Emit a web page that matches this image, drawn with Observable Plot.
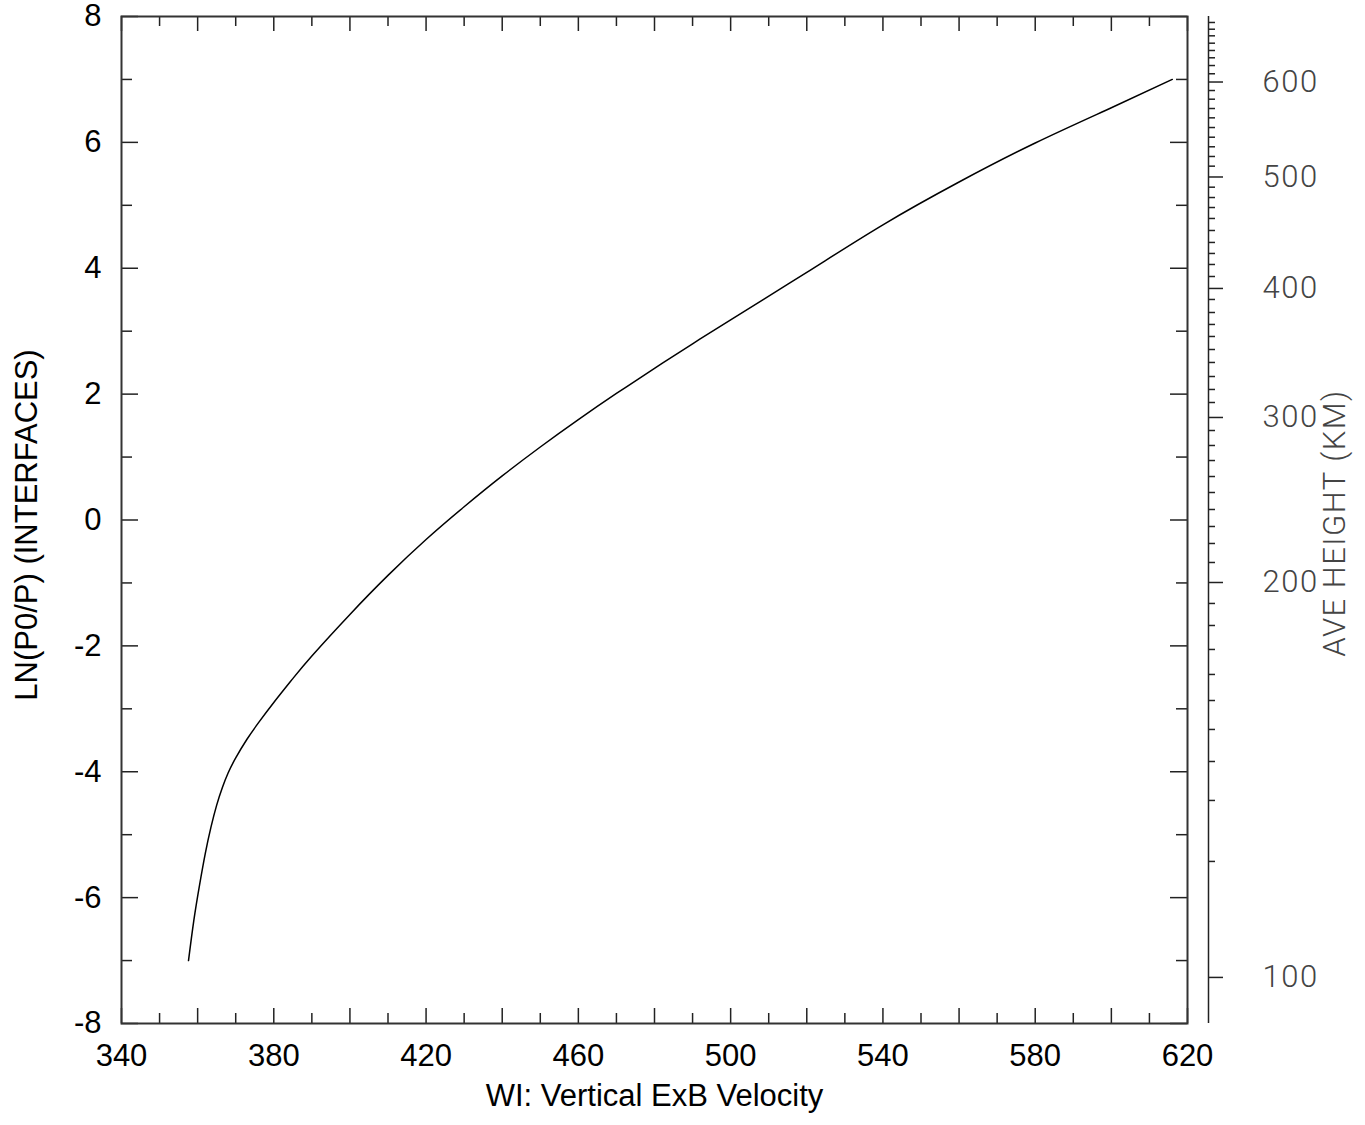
<!DOCTYPE html>
<html>
<head>
<meta charset="utf-8">
<script src="https://cdn.jsdelivr.net/npm/d3@7"></script>
<script src="https://cdn.jsdelivr.net/npm/@observablehq/plot@0.6"></script>
<style>
  html, body { margin: 0; padding: 0; background: #fff; }
  svg { display: block; }
  g[font-family^="Roboto"] { letter-spacing: 1.5px; }
  g[font-family^="Roboto"][text-anchor="middle"] { letter-spacing: 2.3px; }
</style>
</head>
<body>
<div id="chart"></div>
<script>
// ---- Data ----
const wiVelocity = [357.6, 359.0, 360.5, 362.0, 363.5, 365.0, 366.5, 368.0, 370.0, 373.0, 376.0, 380.0, 385.0, 390.0, 400.0, 410.0, 420.0, 430.0, 440.0, 450.0, 460.0, 470.0, 480.0, 490.0, 500.0, 520.0, 540.0, 560.0, 580.0, 600.0, 616.0];
const lnP0P = [-7.0, -6.36, -5.80, -5.30, -4.88, -4.53, -4.25, -4.02, -3.78, -3.48, -3.22, -2.90, -2.52, -2.16, -1.50, -0.88, -0.31, 0.21, 0.70, 1.16, 1.595, 2.01, 2.41, 2.80, 3.18, 3.935, 4.69, 5.37, 5.99, 6.55, 7.0];

// Left / bottom axis ticks
const xTicksAll = [340, 350, 360, 370, 380, 390, 400, 410, 420, 430, 440, 450, 460, 470, 480, 490, 500, 510, 520, 530, 540, 550, 560, 570, 580, 590, 600, 610, 620];
const xTickLabels = [340, 380, 420, 460, 500, 540, 580, 620];
const yTicksAll = [-8, -7, -6, -5, -4, -3, -2, -1, 0, 1, 2, 3, 4, 5, 6, 7, 8];
const yTickLabels = [-8, -6, -4, -2, 0, 2, 4, 6, 8];

// Right axis: average height (km) and its position on the LN(P0/P) scale
const heightKm = [100, 110, 120, 130, 140, 150, 160, 170, 180, 190, 200, 210, 220, 230, 240, 250, 260, 270, 280, 290, 300, 310, 320, 330, 340, 350, 360, 370, 380, 390, 400, 410, 420, 430, 440, 450, 460, 470, 480, 490, 500, 510, 520, 530, 540, 550, 560, 570, 580, 590, 600, 610, 620, 630, 640, 650, 660, 670, 680];
const heightAtLn = [-7.268, -5.425, -4.456, -3.837, -3.328, -2.868, -2.454, -2.057, -1.676, -1.326, -0.993, -0.675, -0.373, -0.103, 0.167, 0.437, 0.691, 0.945, 1.184, 1.422, 1.629, 1.867, 2.074, 2.280, 2.503, 2.709, 2.916, 3.107, 3.297, 3.504, 3.679, 3.869, 4.060, 4.235, 4.410, 4.600, 4.791, 4.965, 5.124, 5.288, 5.450, 5.622, 5.776, 5.930, 6.082, 6.236, 6.390, 6.538, 6.686, 6.824, 6.959, 7.090, 7.221, 7.344, 7.460, 7.576, 7.693, 7.798, 7.905];
const heightLabels = [100, 200, 300, 400, 500, 600];

const xLabel = "WI: Vertical ExB Velocity";
const yLabel = "LN(P0/P) (INTERFACES)";
const rightLabel = "AVE HEIGHT (KM)";

// ---- Layout ----
const W = 1365, H = 1125;
const mL = 121, mR = 178, mT = 16, mB = 102;
const innerW = W - mL - mR, innerH = H - mT - mB;
const tickColor = "#222";
const thinFont = "Roboto, 'DejaVu Sans', sans-serif";
const thinColor = "#444";

const majorLn = heightAtLn.filter((_, i) => heightLabels.includes(heightKm[i]));
const minorLn = heightAtLn.filter((_, i) => !heightLabels.includes(heightKm[i]));
const lnToHeight = new Map(heightAtLn.map((v, i) => [v, heightKm[i]]));

const plot = Plot.plot({
  width: W,
  height: H,
  marginLeft: mL,
  marginRight: mR,
  marginTop: mT,
  marginBottom: mB,
  style: {fontFamily: "'Liberation Sans', Arial, sans-serif", fontSize: "31px", color: "#000", background: "#fff"},
  x: {domain: [340, 620]},
  y: {domain: [-8, 8]},
  marks: [
    // inward ticks on the four sides of the frame
    Plot.tickY(yTicksAll.filter(d => d % 2 === 0), {y: d => d, insetRight: innerW - 17, stroke: tickColor, strokeWidth: 1.5}),
    Plot.tickY(yTicksAll.filter(d => d % 2 !== 0), {y: d => d, insetRight: innerW - 11, stroke: tickColor, strokeWidth: 1.5}),
    Plot.tickY(yTicksAll.filter(d => d % 2 === 0), {y: d => d, insetLeft: innerW - 17, stroke: tickColor, strokeWidth: 1.5}),
    Plot.tickY(yTicksAll.filter(d => d % 2 !== 0), {y: d => d, insetLeft: innerW - 11, stroke: tickColor, strokeWidth: 1.5}),
    Plot.tickX(xTicksAll.filter(d => d % 20 === 0), {x: d => d, insetBottom: innerH - 15, stroke: tickColor, strokeWidth: 1.5}),
    Plot.tickX(xTicksAll.filter(d => d % 20 !== 0), {x: d => d, insetBottom: innerH - 10, stroke: tickColor, strokeWidth: 1.5}),
    Plot.tickX(xTicksAll.filter(d => d % 20 === 0), {x: d => d, insetTop: innerH - 15, stroke: tickColor, strokeWidth: 1.5}),
    Plot.tickX(xTicksAll.filter(d => d % 20 !== 0), {x: d => d, insetTop: innerH - 10, stroke: tickColor, strokeWidth: 1.5}),
    Plot.frame({stroke: "#333", strokeWidth: 2}),

    // tick labels
    Plot.axisX(xTickLabels, {anchor: "bottom", tickSize: 0, tickPadding: 20, tickFormat: d => String(d), label: null, fontSize: 31}),
    Plot.axisY(yTickLabels, {anchor: "left", tickSize: 0, tickPadding: 20, tickFormat: d => String(d), label: null, fontSize: 31}),

    // right height axis
    Plot.ruleX([620], {dx: 21, stroke: tickColor, strokeWidth: 1.5}),
    Plot.axisY(minorLn, {anchor: "right", dx: 21, tickSize: 6, tickFormat: () => "", label: null, stroke: tickColor, strokeWidth: 1.5}),
    Plot.axisY(majorLn, {anchor: "right", dx: 21, tickSize: 14, tickPadding: 40, tickFormat: d => String(lnToHeight.get(d)), label: null,
      stroke: tickColor, strokeWidth: 1.5, fill: thinColor, fontFamily: thinFont, fontWeight: 300, fontSize: 31}),

    // axis titles
    Plot.text([xLabel], {text: d => d, frameAnchor: "bottom", dy: 82, fontSize: 31, fill: "#000"}),
    Plot.text([yLabel], {text: d => d, frameAnchor: "left", textAnchor: "middle", dx: -94, dy: 5, rotate: -90, fontSize: 31, fill: "#000"}),
    Plot.text([rightLabel], {text: d => d, frameAnchor: "right", textAnchor: "middle", dx: 148, dy: 3, rotate: -90, fontSize: 31, fill: thinColor, fontFamily: thinFont, fontWeight: 300}),

    // the curve
    Plot.line(lnP0P, {x: wiVelocity, y: lnP0P, stroke: "#000", strokeWidth: 1.5, curve: "natural"})
  ]
});
document.getElementById("chart").append(plot);
</script>
</body>
</html>
